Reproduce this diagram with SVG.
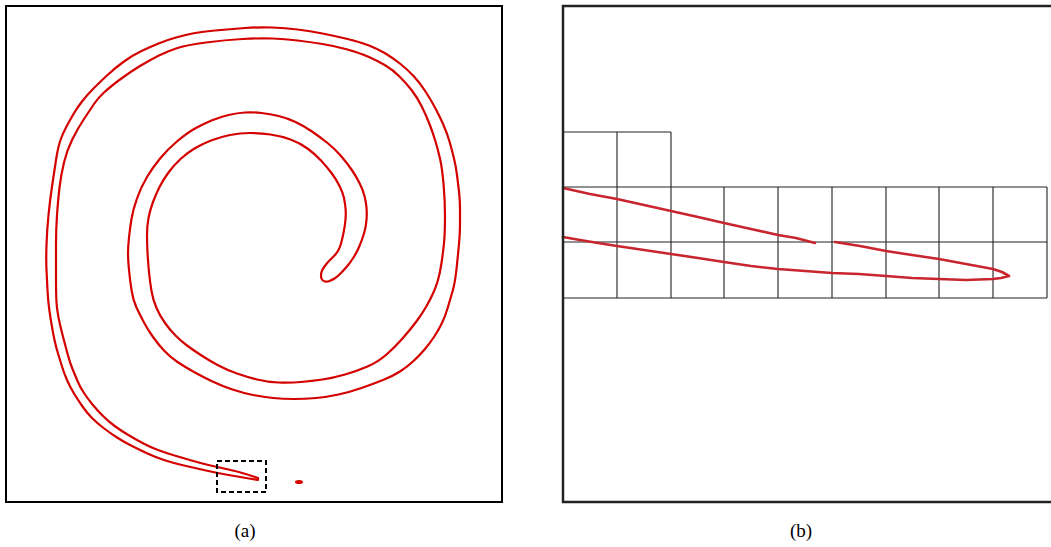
<svg xmlns="http://www.w3.org/2000/svg" width="1051" height="547" viewBox="0 0 1051 547">
<style>
.frame{fill:none;stroke:#000;stroke-width:2}
.frameb{fill:none;stroke:#222;stroke-width:2.5}
.spiral{fill:none;stroke:#d40000;stroke-width:2.2;stroke-linejoin:round;stroke-linecap:round}
.grid{fill:none;stroke:#222;stroke-width:1.1}
.crack{fill:none;stroke:#c9252f;stroke-width:2.6;stroke-linejoin:round;stroke-linecap:round}
.lbl{font-family:"Liberation Serif",serif;font-size:19px;fill:#000;text-anchor:middle}
</style>
<rect width="1051" height="547" fill="#fff"/>
<g id="panel-a">
<rect class="frame" x="6" y="6" width="496" height="496"/>
<path id="spiral" class="spiral" d="M258,480 L249,478.5 Q240,477 228.5,475 Q217,473 206,470.5 Q195,468 184,465.5 Q173,463 164,460 Q155,457 147.5,453.5 Q140,450 132,446 Q124,442 117,437.5 Q110,433 103.5,428 Q97,423 92,418 Q87,413 82.5,406.5 Q78,400 74,393.5 Q70,387 67,380 Q64,373 62,366.5 Q60,360 58,353.5 Q56,347 54.5,340 Q53,333 51.5,324 Q50,315 49,307.5 Q48,300 47.5,290 Q47,280 46.5,270 Q46,260 46.5,245 Q47,230 48.5,215 Q50,200 52,186.5 Q54,173 56,160 Q58,147 60.5,140 Q63,133 66.5,126.5 Q70,120 73.5,114 Q77,108 82,101.5 Q87,95 93.5,88.5 Q100,82 107.5,75 Q115,68 124,61.5 Q133,55 141.5,51 Q150,47 158.5,43.5 Q167,40 176,37.5 Q185,35 192.5,33.5 Q200,32 215,30.5 Q230,29 245,28 Q260,27 272.5,27.5 Q285,28 297.5,29.5 Q310,31 322.5,33.5 Q335,36 347.5,39 Q360,42 369,45.5 Q378,49 385.5,53.5 Q393,58 400.5,64 Q408,70 414,76.5 Q420,83 425.5,91.5 Q431,100 435.5,108.5 Q440,117 443.5,125 Q447,133 449.5,141.5 Q452,150 454,158.5 Q456,167 457,175 Q458,183 459,191.5 Q460,200 460,208.5 Q460,217 460,225 Q460,233 459,244 Q458,255 456.5,269 Q455,283 452.5,291.5 Q450,300 447.5,308.5 Q445,317 441.5,324 Q438,331 434,337 Q430,343 425,349 Q420,355 413.5,361 Q407,367 400,371.5 Q393,376 383,380 Q373,384 361.5,388 Q350,392 338.5,394.5 Q327,397 316,398 Q305,399 294,399 Q283,399 273,398 Q263,397 253,395 Q243,393 232.5,389.5 Q222,386 212.5,381.5 Q203,377 194,372 Q185,367 177.5,362 Q170,357 164,350.5 Q158,344 153,337 Q148,330 144,322.5 Q140,315 136.5,307.5 Q133,300 131.5,290 Q130,280 129,270 Q128,260 128,253.5 Q128,247 129,237.5 Q130,228 131.5,219 Q133,210 137,198.5 Q141,187 147,177 Q153,167 160.5,158 Q168,149 177.5,141 Q187,133 195,128.5 Q203,124 211.5,120.5 Q220,117 228.5,115 Q237,113 245,112.5 Q253,112 261.5,113 Q270,114 278.5,116 Q287,118 295.5,122 Q304,126 312,131.5 Q320,137 327.5,143 Q335,149 341,156 Q347,163 351.5,169.5 Q356,176 359.5,183 Q363,190 364.5,196 Q366,202 366.5,207.5 Q367,213 366.5,220 Q366,227 364,233.5 Q362,240 359.5,246 Q357,252 353.5,257.5 Q350,263 346.5,267 Q343,271 340,274 Q337,277 334.5,278.5 Q332,280 329.5,281 Q327,282 325,281.5 Q323,281 322,279.5 Q321,278 321,276 Q321,274 321.5,272 Q322,270 324.5,266.5 Q327,263 329.5,260.5 Q332,258 334.5,255.5 Q337,253 338.5,250 Q340,247 341,243.5 Q342,240 343.5,233 Q345,226 345.5,219.5 Q346,213 345.5,208 Q345,203 344,198 Q343,193 339.5,186 Q336,179 331.5,173 Q327,167 321,160.5 Q315,154 307.5,148.5 Q300,143 290.5,139.5 Q281,136 270.5,134.5 Q260,133 250,133 Q240,133 230,135 Q220,137 211,140.5 Q202,144 194.5,148.5 Q187,153 180.5,159 Q174,165 168.5,172.5 Q163,180 159.5,187 Q156,194 153,202 Q150,210 148.5,218 Q147,226 147,234.5 Q147,243 147.5,252.5 Q148,262 149,272 Q150,282 151.5,291 Q153,300 156.5,308 Q160,316 165,323 Q170,330 175.5,335.5 Q181,341 187,345.5 Q193,350 201.5,355.5 Q210,361 218.5,365.5 Q227,370 237,373.5 Q247,377 257,379.5 Q267,382 278.5,382.5 Q290,383 301,382 Q312,381 322.5,379.5 Q333,378 345,374.5 Q357,371 367.5,366.5 Q378,362 386.5,354.5 Q395,347 402.5,338.5 Q410,330 416,322 Q422,314 426,307 Q430,300 433,293.5 Q436,287 438,280 Q440,273 441.5,263 Q443,253 444,243 Q445,233 445,216.5 Q445,200 443.5,183.5 Q442,167 440,158.5 Q438,150 435.5,141.5 Q433,133 429.5,124 Q426,115 421.5,106 Q417,97 411.5,90 Q406,83 399.5,76.5 Q393,70 385.5,65.5 Q378,61 369,57 Q360,53 347.5,49.5 Q335,46 322.5,44 Q310,42 297.5,40.5 Q285,39 272.5,38.5 Q260,38 242.5,39 Q225,40 206,42.5 Q187,45 177.5,48 Q168,51 159,55.5 Q150,60 140,66 Q130,72 120,79.5 Q110,87 104,92.5 Q98,98 94,104 Q90,110 84,119 Q78,128 72.5,139 Q67,150 64,162.5 Q61,175 59.5,187.5 Q58,200 57,215 Q56,230 56,245 Q56,260 56,280 Q56,300 57,308 Q58,316 60,324.5 Q62,333 64,340.5 Q66,348 68,355.5 Q70,363 72.5,369 Q75,375 77.5,381 Q80,387 84,393 Q88,399 92.5,404.5 Q97,410 102.5,415.5 Q108,421 114,425.5 Q120,430 127.5,434.5 Q135,439 142.5,443 Q150,447 158,450 Q166,453 174.5,455.5 Q183,458 191.5,460.5 Q200,463 208.5,465 Q217,467 228.5,469.5 Q240,472 249,475 L258,478 Z"/>
<ellipse id="fragment" cx="299" cy="482" rx="4" ry="2" fill="#d40000"/>
<rect id="zoom-box" x="217" y="461" width="49" height="31" fill="none" stroke="#000" stroke-width="2" stroke-dasharray="5 3"/>
<text class="lbl" x="245" y="537">(a)</text>
</g>
<g id="panel-b">
<g id="grid" class="grid">
<path d="M563,132 H671 M563,187 H1047 M563,242 H1047 M563,298 H1047"/>
<path d="M617,132 V298 M671,132 V298 M724,187 V298 M778,187 V298 M832,187 V298 M886,187 V298 M939,187 V298 M993,187 V298 M1047,187 V298"/>
</g>
<g id="crack">
<path class="crack" d="M563,188 L590,194 L617,199 L644,205 L671,211 L698,217 L724,223 L751,229 L778,235 L796,238 L815,243"/>
<path class="crack" d="M835,242 L860,246 L886,251 L912,255 L939,259 L966,264 L993,269 L1002,272 L1009,276 L1001,278 L993,279 L966,280 L939,279 L912,278 L886,276 L859,274 L832,273 L805,271 L778,269 L751,266 L724,262 L698,258 L671,254 L644,250 L617,246 L598,243 L580,240 L563,237"/>
</g>
<path class="frameb" d="M1051,6 H563 V502 H1051"/>
<text class="lbl" x="801" y="537">(b)</text>
</g>
</svg>
